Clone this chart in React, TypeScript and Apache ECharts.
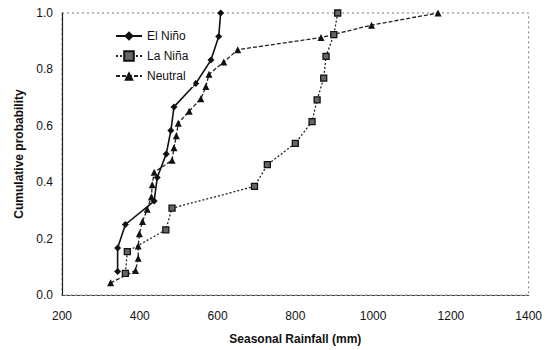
import React, { useEffect, useRef } from "react";
import * as echarts from "echarts";

const elNinoRain = [343, 343, 363, 437, 445, 468, 480, 488, 544, 583, 603, 608];
const elNinoProb = [0.083, 0.167, 0.25, 0.333, 0.417, 0.5, 0.583, 0.667, 0.75, 0.833, 0.917, 1.0];

const laNinaRain = [363, 368, 467, 483, 695, 728, 800, 843, 856, 873, 879, 899, 909];
const laNinaProb = [0.077, 0.154, 0.231, 0.308, 0.385, 0.462, 0.538, 0.615, 0.692, 0.769, 0.846, 0.923, 1.0];

const neutralRain = [325, 389, 396, 396, 399, 407, 419, 430, 432, 437, 483, 488, 494, 499, 527, 557, 570, 578, 616, 652, 866, 996, 1167];
const neutralProb = [0.043, 0.087, 0.13, 0.174, 0.217, 0.261, 0.304, 0.348, 0.391, 0.435, 0.478, 0.522, 0.565, 0.609, 0.652, 0.696, 0.739, 0.783, 0.826, 0.87, 0.913, 0.957, 1.0];

const seriesNames = ["El Niño", "La Niña", "Neutral"];
const xTitle = "Seasonal Rainfall (mm)";
const yTitle = "Cumulative probability";

const pair = (xs: number[], ys: number[]) => xs.map((x, i) => [x, ys[i]]);

const FONT = "'Liberation Sans', Arial, sans-serif";

export default function App() {
  const ref = useRef<HTMLDivElement>(null);
  useEffect(() => {
    if (!ref.current) return;
    const chart = echarts.init(ref.current, null, { renderer: "svg" });
    chart.setOption({
      animation: false,
      backgroundColor: "#fff",
      textStyle: { fontFamily: FONT },
      grid: {
        left: 62,
        right: 13,
        top: 13,
        bottom: 52,
        show: true,
        borderColor: "#777",
        borderWidth: 1,
        borderType: [2, 3],
      },
      legend: {
        orient: "vertical",
        left: 110,
        top: 25,
        itemGap: 8,
        itemWidth: 26,
        itemHeight: 12,
        backgroundColor: "#fff",
        textStyle: { fontSize: 12, color: "#111", fontFamily: FONT },
        data: seriesNames,
      },
      xAxis: {
        type: "value",
        min: 200,
        max: 1400,
        interval: 200,
        name: xTitle,
        nameLocation: "middle",
        nameGap: 38,
        nameTextStyle: { fontSize: 12, fontWeight: "bold", color: "#111", fontFamily: FONT },
        axisLine: { show: true, lineStyle: { color: "#444", width: 1, type: [3, 2] } },
        axisTick: { show: false },
        splitLine: { show: false },
        axisLabel: {
          fontSize: 12,
          color: "#111",
          margin: 15,
          fontFamily: FONT,
          formatter: (v: number) => String(v),
        },
      },
      yAxis: {
        type: "value",
        min: 0,
        max: 1,
        interval: 0.2,
        name: yTitle,
        nameLocation: "middle",
        nameGap: 36,
        nameTextStyle: { fontSize: 12, fontWeight: "bold", color: "#111", fontFamily: FONT },
        axisLine: { show: true, lineStyle: { color: "#222", width: 1.2 } },
        axisTick: { show: false },
        splitLine: { show: false },
        axisLabel: {
          fontSize: 12,
          color: "#111",
          margin: 9,
          fontFamily: FONT,
          formatter: (v: number) => v.toFixed(1),
        },
      },
      series: [
        {
          name: seriesNames[0],
          type: "line",
          data: pair(elNinoRain, elNinoProb),
          symbol: "diamond",
          symbolSize: 7,
          lineStyle: { color: "#111", width: 1.6, type: "solid" },
          itemStyle: { color: "#111" },
          z: 3,
        },
        {
          name: seriesNames[1],
          type: "line",
          data: pair(laNinaRain, laNinaProb),
          symbol: "rect",
          symbolSize: 6,
          lineStyle: { color: "#222", width: 1.3, type: [2, 2] },
          itemStyle: { color: "#666", borderColor: "#111", borderWidth: 1.3 },
          z: 2,
        },
        {
          name: seriesNames[2],
          type: "line",
          data: pair(neutralRain, neutralProb),
          symbol: "triangle",
          symbolSize: 7,
          lineStyle: { color: "#222", width: 1.3, type: [4, 2] },
          itemStyle: { color: "#111" },
          z: 2,
        },
      ],
    });
    return () => chart.dispose();
  }, []);
  return <div ref={ref} style={{ width: 545, height: 350, position: "absolute", left: 0, top: 0 }} />;
}
